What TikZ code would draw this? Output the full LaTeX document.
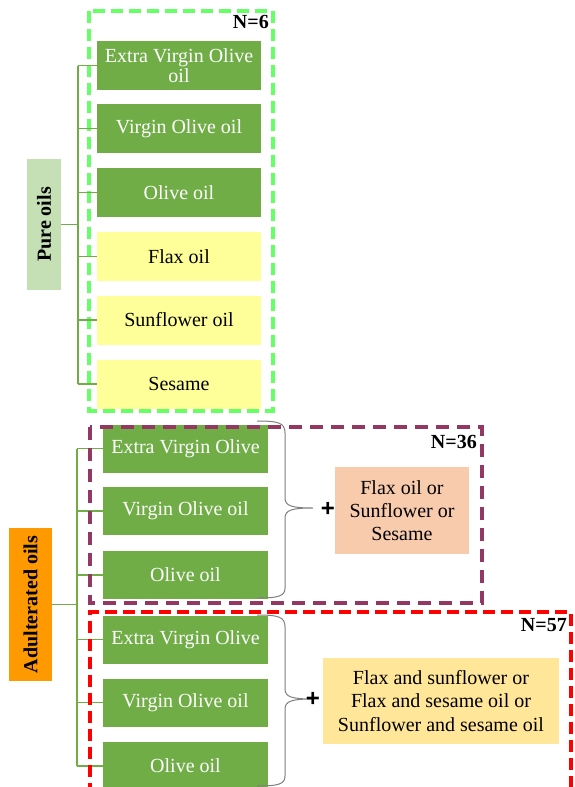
\documentclass[tikz,border=0pt]{standalone}
\usepackage{fontspec}
\setmainfont{Liberation Serif}
\newfontfamily\plusfont{Liberation Sans}
\usetikzlibrary{positioning}

\definecolor{olivegreen}{HTML}{70AD47}
\definecolor{paleyellow}{HTML}{FFFF99}
\definecolor{palegreen}{HTML}{C5E0B4}
\definecolor{orangebox}{HTML}{FF9900}
\definecolor{salmon}{HTML}{F8CBAD}
\definecolor{lightgold}{HTML}{FFE699}
\definecolor{dashgreen}{HTML}{66FF66}
\definecolor{dashpurple}{HTML}{953763}
\definecolor{bracegray}{HTML}{7F7F7F}

\begin{document}
\begin{tikzpicture}[x=1pt,y=-1pt,
  txt/.style={font=\fontsize{20}{23.3}\selectfont, inner sep=0pt, align=center},
  olivebox/.style={txt, fill=olivegreen, text=white, minimum width=165pt, minimum height=48pt},
  seedbox/.style={txt, fill=paleyellow, minimum width=165pt, minimum height=48pt},
  grouplabel/.style={font=\fontsize{20}{20}\selectfont\bfseries, rotate=90, inner sep=0pt},
  tree/.style={draw=olivegreen, line width=1.8pt},
  groupframe/.style={line width=4pt, dash pattern=on 12pt off 6pt},
  ncount/.style={font=\fontsize{20}{20}\selectfont\bfseries, inner sep=0pt, anchor=east},
  plus/.style={font=\plusfont\fontsize{24}{24}\selectfont\bfseries, inner sep=0pt},
  bracket/.style={draw=bracegray, line width=1pt}]
\clip (0,0) rectangle (574,787);
\fill[white] (0,0) rectangle (574,787);

% pure oils
\draw[groupframe, draw=dashgreen] (89,11) rectangle (273,411);
\node[ncount] (n6) at (269,22) {N=6};
\node[olivebox, minimum width=164pt, minimum height=49pt, font=\fontsize{20}{20}\selectfont] (p1) at (179,65.5) {Extra Virgin Olive\\oil};
\node[olivebox, minimum width=164pt, minimum height=49pt] (p2) at (179,128.5) {Virgin Olive oil};
\node[olivebox, minimum width=164pt, minimum height=49pt] (p3) at (179,192.5) {Olive oil};
\node[seedbox, minimum width=164pt, minimum height=49pt] (p4) at (179,256.5) {Flax oil};
\node[seedbox, minimum width=164pt, minimum height=49pt] (p5) at (179,320) {Sunflower oil};
\node[seedbox, minimum width=164pt, minimum height=49pt] (p6) at (179,384) {Sesame};
\node[grouplabel, fill=palegreen, minimum width=131pt, minimum height=34pt] (pure) at (44,224.5) {Pure oils};

\coordinate (ptop) at (78,65.5);
\coordinate (pbot) at (78,384);
\draw[tree] (ptop) -- (pbot);
\draw[tree] (pure.south) -- (pure.south -| ptop);
\draw[tree] (p1.west -| ptop) -- (p1.west);
\draw[tree] (p2.west -| ptop) -- (p2.west);
\draw[tree] (p3.west -| ptop) -- (p3.west);
\draw[tree] (p4.west -| ptop) -- (p4.west);
\draw[tree] (p5.west -| ptop) -- (p5.west);
\draw[tree] (p6.west -| ptop) -- (p6.west);

% adulterated oils
\node[olivebox] (a1) at (185.5,448.5) {Extra Virgin Olive};
\node[olivebox] (a2) at (185.5,511) {Virgin Olive oil};
\node[olivebox] (a3) at (185.5,575) {Olive oil};
\node[olivebox] (a4) at (185.5,639.5) {Extra Virgin Olive};
\node[olivebox] (a5) at (185.5,702.5) {Virgin Olive oil};
\node[olivebox] (a6) at (185.5,766) {Olive oil};
\node[grouplabel, fill=orangebox, minimum width=153pt, minimum height=43pt] (adult) at (30.5,604.5) {Adulterated oils};

\coordinate (atop) at (77,448.5);
\coordinate (abot) at (77,766);
\draw[tree] (atop) -- (abot);
\draw[tree] (adult.south) -- (adult.south -| atop);
\draw[tree] (a1.west -| atop) -- (a1.west);
\draw[tree] (a2.west -| atop) -- (a2.west);
\draw[tree] (a3.west -| atop) -- (a3.west);
\draw[tree] (a4.west -| atop) -- (a4.west);
\draw[tree] (a5.west -| atop) -- (a5.west);
\draw[tree] (a6.west -| atop) -- (a6.west);

\draw[groupframe, draw=dashpurple, dash pattern=on 13pt off 8pt] (90,427) rectangle (482,603);
\draw[groupframe, draw=red] (90,795) -- (90,612) -- (571,612) -- (571,795);
\node[ncount] (n36) at (477,442) {N=36};
\node[ncount] (n57) at (567,625) {N=57};

% braces and mixtures
\coordinate (b1tip) at (313,508);
\draw[bracket] (257,421) .. controls (279,421) and (285,423) .. (285,433) -- (285,498)
  .. controls (285,506) and (292,508) .. (b1tip)
  .. controls (292,508) and (285,510) .. (285,518) -- (285,588)
  .. controls (285,596) and (279,598) .. (257,598);
\coordinate (b2tip) at (313,699);
\draw[bracket] (257,615) .. controls (279,615) and (285,617) .. (285,627) -- (285,689)
  .. controls (285,697) and (292,699) .. (b2tip)
  .. controls (292,699) and (285,701) .. (285,709) -- (285,776)
  .. controls (285,784) and (279,786) .. (257,786);

\node[plus] (plus1) at (328,509) {+};
\node[plus] (plus2) at (313,699) {+};
\node[txt, fill=salmon, minimum width=134pt, minimum height=87pt] (mix1) at (402,510.5) {Flax oil or\\Sunflower or\\Sesame};
\node[txt, fill=lightgold, minimum width=236pt, minimum height=86pt] (mix2) at (441,701) {Flax and sunflower or\\Flax and sesame oil or\\Sunflower and sesame oil};
\end{tikzpicture}
\end{document}
